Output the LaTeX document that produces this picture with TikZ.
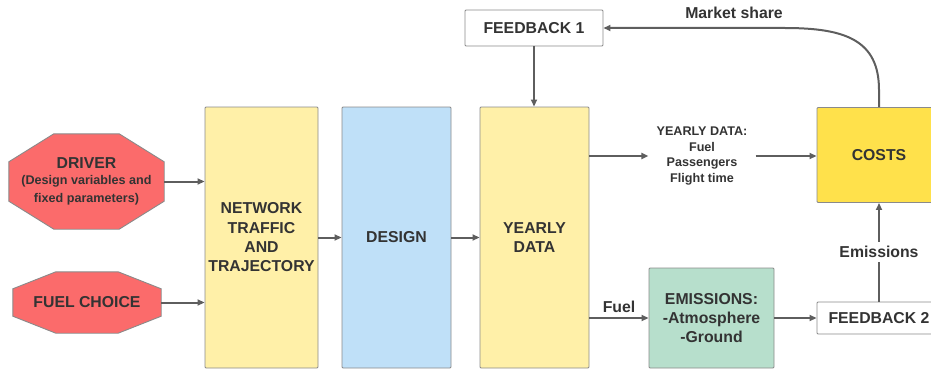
\documentclass[tikz,border=0pt]{standalone}
\usepackage{fontspec}
\setmainfont{Liberation Sans}
\usetikzlibrary{arrows.meta,calc,backgrounds}
\definecolor{ln}{HTML}{5E5E5E}
\definecolor{bd}{HTML}{8A8A8A}
\definecolor{txt}{HTML}{333333}
\definecolor{redf}{HTML}{FB6B6B}
\definecolor{yelf}{HTML}{FFF0A8}
\definecolor{bluef}{HTML}{BFE0F8}
\definecolor{costf}{HTML}{FFE14B}
\definecolor{greenf}{HTML}{B7DFCC}
\newcommand\bigf{\fontsize{15.8}{19.3}\selectfont}
\newcommand\smallf{\fontsize{12.6}{15.4}\selectfont}
\newcommand\octo[3]{\filldraw[octstyle] ($(#1.north west)+(#2,0)$) -- ($(#1.north east)+(-#2,0)$) -- ($(#1.north east)+(0,#3)$) -- ($(#1.south east)+(0,-#3)$) -- ($(#1.south east)+(-#2,0)$) -- ($(#1.south west)+(#2,0)$) -- ($(#1.south west)+(0,-#3)$) -- ($(#1.north west)+(0,#3)$) -- cycle;}
\tikzset{
  box/.style={draw=bd, line width=0.9pt, rounded corners=1pt, align=center, inner sep=0pt},
  octstyle/.style={draw=bd, line width=0.9pt, fill=redf},
  octnode/.style={align=center, inner sep=0pt},
  arr/.style={draw=ln, line width=2pt, -{Triangle[length=7pt,width=6pt]}},
  lbl/.style={align=center, inner sep=1pt}
}
\begin{document}
\begin{tikzpicture}[x=1pt,y=-1pt, font=\bfseries\bigf, text=txt]
\useasboundingbox (0,0) rectangle (931,369);
% red start nodes
\node[octnode, minimum width=155pt, minimum height=95pt] (driver) at (86.5,181.5)
  {DRIVER\\[-3pt]\smallf (Design variables and\\[-1pt] \smallf fixed parameters)};
\node[octnode, minimum width=148pt, minimum height=61pt] (fuelch) at (87,302.5) {FUEL CHOICE};
\begin{scope}[on background layer]
\octo{driver}{45}{28}
\octo{fuelch}{43}{17}
\end{scope}
% main column boxes
\node[box, fill=yelf, minimum width=113pt, minimum height=261pt] (network) at (261.5,237.5)
  {NETWORK\\ TRAFFIC\\ AND\\ TRAJECTORY};
\node[box, fill=bluef, minimum width=109pt, minimum height=261pt] (design) at (396.5,237.5) {DESIGN};
\node[box, fill=yelf, minimum width=109pt, minimum height=261pt] (yearly) at (534.5,237.5) {YEARLY\\ DATA};
\node[box, fill=white, minimum width=138pt, minimum height=36pt] (fb1) at (534,28) {FEEDBACK 1};
\node[box, fill=costf, minimum width=124pt, minimum height=95pt] (costs) at (879,155) {COSTS};
\node[box, fill=greenf, minimum width=125pt, minimum height=100pt] (emis) at (711.5,318)
  {EMISSIONS:\\ -Atmosphere\\ -Ground};
\node[box, fill=white, minimum width=124pt, minimum height=32pt] (fb2) at (879,318) {FEEDBACK 2};
% yearly data label
\node[lbl, font=\bfseries\smallf, inner xsep=8pt] (yd) at (702,156)
  {YEARLY DATA:\\ Fuel\\ Passengers\\ Flight time};
% connectors
\draw[arr] (driver.east) -- (driver.east -| network.west);
\draw[arr] (fuelch.east) -- (fuelch.east -| network.west);
\draw[arr] (network.east) -- (design.west);
\draw[arr] (design.east) -- (yearly.east -| yearly.west);
\draw[arr] (fb1.south) -- (fb1.south |- yearly.north);
\draw[arr] (yearly.east |- yd.west) -- (yd.west);
\draw[arr] (yd.east) -- (yd.east -| costs.west);
\draw[arr] (yearly.east |- emis.west) -- node[lbl, above=3pt] {Fuel} (emis.west);
\draw[arr] (emis.east) -- (fb2.west);
\draw[arr] (fb2.north) -- node[lbl, fill=white, inner ysep=4pt] {Emissions} (costs.south);
\coordinate (bend) at (785,28);
\draw[arr] (costs.north) -- (879,90) .. controls (879,40) and (845,28) .. (bend) -- (fb1.east);
\node[lbl] (ms) at (734,13) {Market share};
\end{tikzpicture}
\end{document}
